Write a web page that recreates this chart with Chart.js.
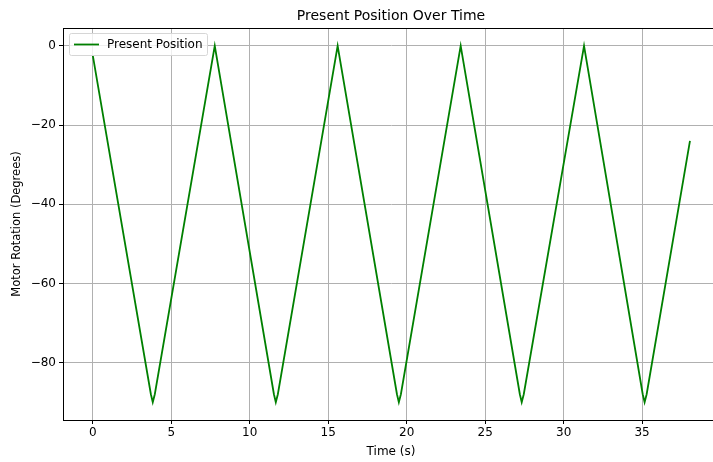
<!DOCTYPE html>
<html>
<head>
<meta charset="utf-8">
<script src="https://cdn.jsdelivr.net/npm/chart.js@4"></script>
<style>
  html, body { margin: 0; padding: 0; background: #fff; overflow: hidden; }
  #wrap { width: 720px; height: 462px; }
</style>
</head>
<body>
<div id="wrap"><canvas id="posChart" width="720" height="462"></canvas></div>
<script>
// values
const timeSec = [0, 3.7, 3.82, 3.95, 7.77, 11.54, 11.66, 11.79, 15.6, 19.38, 19.5, 19.63, 23.44, 27.21, 27.33, 27.46, 31.3, 35.04, 35.16, 35.29, 38.05];
const presentPos = [-2.5, -88, -90, -88, 0, -88, -90, -88, 0, -88, -90, -88, 0, -88, -90, -88, 0, -88, -90, -88, -24];
const xTicks = [0, 5, 10, 15, 20, 25, 30, 35];
const yTicks = [-80, -60, -40, -20, 0];

const FONT = "'DejaVu Sans', sans-serif";

const points = timeSec.map((t, i) => ({ x: t, y: presentPos[i] }));

// title, top/right spines and legend drawn like matplotlib
const extras = {
  id: "extras",
  afterDraw(chart) {
    const ctx = chart.ctx;
    const a = chart.chartArea;
    ctx.save();
    ctx.strokeStyle = "#000";
    ctx.lineWidth = 1;
    ctx.strokeRect(Math.round(a.left) + 0.5, Math.round(a.top) + 0.5, Math.round(a.right - a.left), Math.round(a.bottom - a.top));

    ctx.fillStyle = "#000";
    ctx.font = "14px " + FONT;
    ctx.textAlign = "center";
    ctx.textBaseline = "middle";
    ctx.fillText("Present Position Over Time", (a.left + a.right) / 2, 16);

    // legend
    const lx = a.left + 6, ly = a.top + 5, lw = 138, lh = 22;
    ctx.fillStyle = "rgba(255,255,255,0.8)";
    ctx.strokeStyle = "#d6d6d6";
    ctx.beginPath();
    ctx.roundRect(lx + 0.5, ly + 0.5, lw, lh, 2);
    ctx.fill();
    ctx.stroke();
    ctx.strokeStyle = "green";
    ctx.lineWidth = 1.8;
    ctx.beginPath();
    ctx.moveTo(lx + 5, ly + 11.5);
    ctx.lineTo(lx + 30, ly + 11.5);
    ctx.stroke();
    ctx.fillStyle = "#000";
    ctx.font = "12px " + FONT;
    ctx.textAlign = "left";
    ctx.fillText("Present Position", lx + 38, ly + 11.5);
    ctx.restore();
  }
};

new Chart(document.getElementById("posChart"), {
  type: "line",
  data: {
    datasets: [{
      label: "Present Position",
      data: points,
      borderColor: "green",
      borderWidth: 1.8,
      pointRadius: 0,
      tension: 0,
      fill: false
    }]
  },
  options: {
    responsive: false,
    animation: false,
    layout: { padding: { top: 28, right: 1, left: 0, bottom: 0 } },
    plugins: {
      legend: { display: false },
      title: { display: false },
      tooltip: { enabled: false }
    },
    scales: {
      x: {
        type: "linear",
        min: -1.9,
        max: 39.9,
        afterFit: (s) => { s.height = 42; },
        afterBuildTicks: (s) => { s.ticks = xTicks.map(v => ({ value: v })); },
        grid: { color: "#b0b0b0", lineWidth: 1, tickColor: "#000", tickLength: 4 },
        border: { color: "#000", width: 1 },
        ticks: { color: "#000", font: { family: FONT, size: 12 }, padding: 2, maxRotation: 0,
          callback: (v) => String(v).replace("-", "\u2212") },
        title: { display: true, text: "Time (s)", color: "#000", font: { family: FONT, size: 12 }, padding: { top: 0, bottom: 3 } }
      },
      y: {
        min: -94.5,
        max: 4.5,
        afterFit: (s) => { s.width = 63; },
        afterBuildTicks: (s) => { s.ticks = yTicks.map(v => ({ value: v })); },
        grid: { color: "#b0b0b0", lineWidth: 1, tickColor: "#000", tickLength: 4 },
        border: { color: "#000", width: 1 },
        ticks: { color: "#000", font: { family: FONT, size: 12 }, padding: 3,
          callback: (v) => String(v).replace("-", "\u2212") },
        title: { display: true, text: "Motor Rotation (Degrees)", color: "#000", font: { family: FONT, size: 11.5 }, padding: { top: 10, bottom: 4 } }
      }
    }
  },
  plugins: [extras]
});
</script>
</body>
</html>
